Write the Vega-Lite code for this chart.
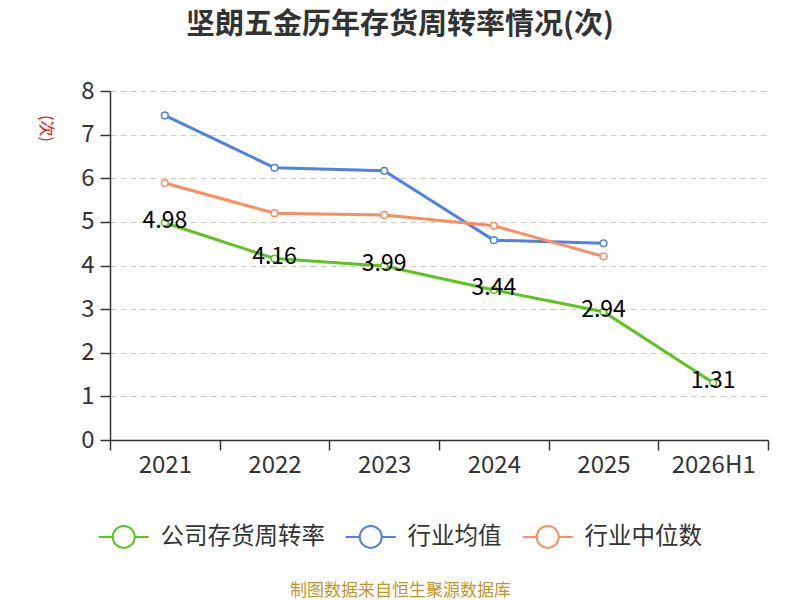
{
  "$schema": "https://vega.github.io/schema/vega-lite/v6.json",
  "description": "坚朗五金历年存货周转率情况",
  "width": 658,
  "height": 349,
  "autosize": {"type": "none"},
  "padding": {"left": 110, "top": 91, "right": 32, "bottom": 160},
  "background": "white",
  "config": {
    "font": "Noto Sans CJK SC",
    "view": {"stroke": null}
  },
  "title": {
    "text": "坚朗五金历年存货周转率情况(次)",
    "fontSize": 29,
    "fontWeight": "bold",
    "color": "#333333",
    "anchor": "middle",
    "dx": -39,
    "offset": 39
  },
  "data": {
    "values": [
      {"year": "2021", "series": "公司存货周转率", "value": 4.98},
      {"year": "2022", "series": "公司存货周转率", "value": 4.16},
      {"year": "2023", "series": "公司存货周转率", "value": 3.99},
      {"year": "2024", "series": "公司存货周转率", "value": 3.44},
      {"year": "2025", "series": "公司存货周转率", "value": 2.94},
      {"year": "2026H1", "series": "公司存货周转率", "value": 1.31},
      {"year": "2021", "series": "行业均值", "value": 7.44},
      {"year": "2022", "series": "行业均值", "value": 6.24},
      {"year": "2023", "series": "行业均值", "value": 6.17},
      {"year": "2024", "series": "行业均值", "value": 4.58},
      {"year": "2025", "series": "行业均值", "value": 4.51},
      {"year": "2021", "series": "行业中位数", "value": 5.89},
      {"year": "2022", "series": "行业中位数", "value": 5.2},
      {"year": "2023", "series": "行业中位数", "value": 5.16},
      {"year": "2024", "series": "行业中位数", "value": 4.91},
      {"year": "2025", "series": "行业中位数", "value": 4.21}
    ]
  },
  "encoding": {
    "x": {
      "field": "year",
      "type": "nominal",
      "sort": null,
      "scale": {"type": "band", "paddingInner": 0, "paddingOuter": 0},
      "axis": {
        "title": "制图数据来自恒生聚源数据库",
        "titleColor": "#c8922a",
        "titleFontSize": 17,
        "titleFontWeight": "normal",
        "titleX": 290,
        "titleY": 150,
        "titleAlign": "center",
        "titleBaseline": "middle",
        "labelAngle": 0,
        "labelFontSize": 24,
        "labelColor": "#333333",
        "labelPadding": 3,
        "tickBand": "extent",
        "tickSize": 10,
        "tickColor": "#333333",
        "tickWidth": 1.5,
        "domainColor": "#333333",
        "domainWidth": 1.5,
        "grid": false
      }
    },
    "y": {
      "field": "value",
      "type": "quantitative",
      "scale": {"domain": [0, 8], "nice": false},
      "axis": {
        "title": "(次)",
        "titleColor": "#ff0000",
        "titleFontSize": 16,
        "titleFontWeight": "normal",
        "titleAngle": 90,
        "titleX": -65,
        "titleY": 37,
        "titleAlign": "center",
        "titleBaseline": "middle",
        "values": [0, 1, 2, 3, 4, 5, 6, 7, 8],
        "labelFontSize": 24,
        "labelColor": "#333333",
        "labelPadding": 6,
        "tickSize": 10,
        "tickColor": "#333333",
        "tickWidth": 1.5,
        "domainColor": "#333333",
        "domainWidth": 1.5,
        "grid": true,
        "gridColor": "#cccccc",
        "gridDash": [6, 4],
        "gridWidth": 1.2
      }
    },
    "color": {
      "field": "series",
      "type": "nominal",
      "sort": ["公司存货周转率", "行业均值", "行业中位数"],
      "scale": {
        "domain": ["公司存货周转率", "行业均值", "行业中位数"],
        "range": ["#5bc41d", "#4e80e6", "#ff8c5a"]
      },
      "legend": {
        "title": null,
        "orient": "none",
        "direction": "horizontal",
        "legendX": 2,
        "legendY": 434,
        "padding": 0,
        "symbolType": "M-2.5,0L-1.1,0M1.1,0L2.5,0M1.1,0A1.1,1.1,0,1,1,-1.1,0A1.1,1.1,0,1,1,1.1,0",
        "symbolSize": 400,
        "symbolStrokeWidth": 2,
        "labelFontSize": 23.5,
        "labelLimit": 400,
        "labelColor": "#333333",
        "labelOffset": 25,
        "columnPadding": 16,
        "encode": {"symbols": {"update": {"fill": {"value": "white"}, "opacity": {"value": 1}}}}
      }
    }
  },
  "layer": [
    {
      "mark": {"type": "line", "strokeWidth": 3}
    },
    {
      "mark": {
        "type": "point",
        "filled": false,
        "fill": "white",
        "fillOpacity": 1,
        "opacity": 1,
        "size": 45,
        "strokeWidth": 1.5
      }
    },
    {
      "transform": [{"filter": "datum.series === '公司存货周转率'"}],
      "mark": {"type": "text", "fontSize": 23, "color": "#000000", "dy": -2},
      "encoding": {
        "text": {"field": "value", "type": "quantitative", "format": ".2f"},
        "color": {"value": "#000000"}
      }
    }
  ]
}
